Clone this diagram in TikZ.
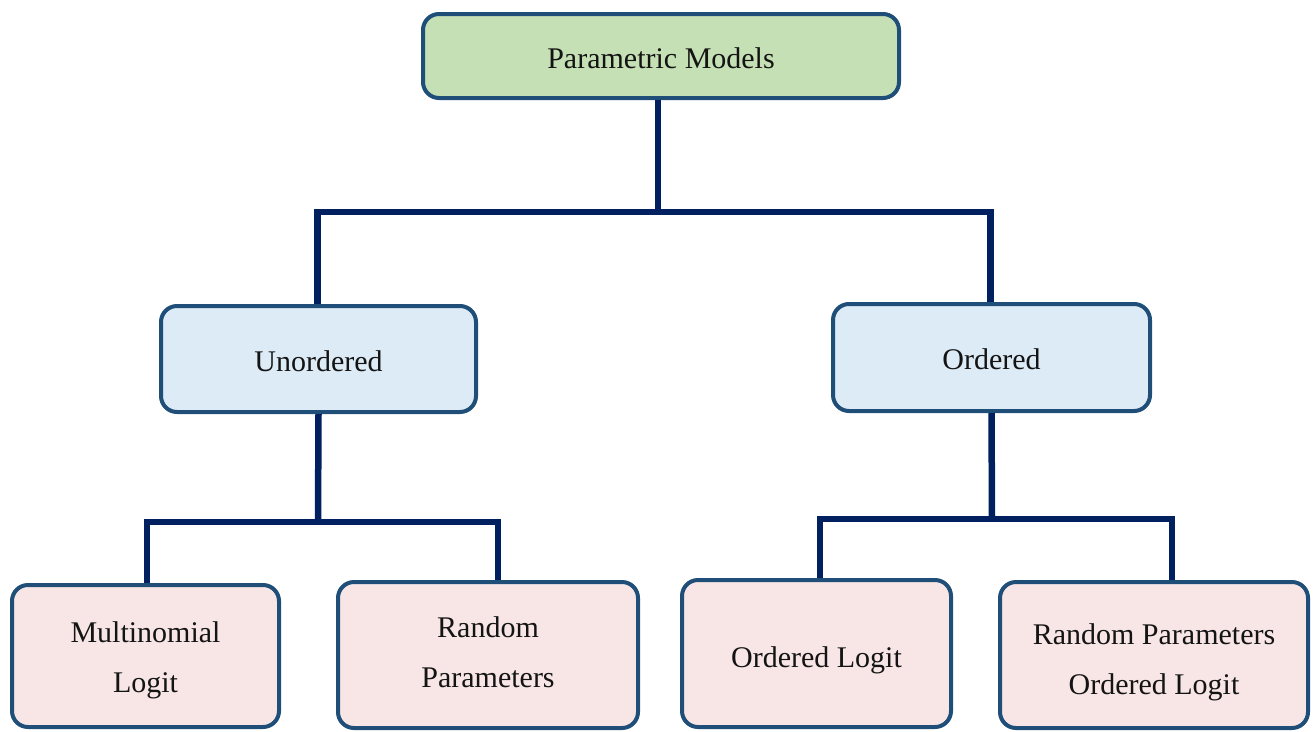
\documentclass[tikz,border=0pt]{standalone}
\usepackage{fontspec}
\setmainfont{Liberation Serif}
\definecolor{bordc}{RGB}{31,78,121}
\definecolor{linec}{RGB}{0,32,96}
\definecolor{greenf}{RGB}{197,224,180}
\definecolor{bluef}{RGB}{221,235,247}
\definecolor{pinkf}{RGB}{248,230,230}
\definecolor{txtc}{RGB}{20,20,20}
\tikzset{
  box/.style={draw=bordc, line width=4pt, rounded corners=16pt, inner sep=0pt},
  topbox/.style={box, fill=greenf},
  midbox/.style={box, fill=bluef},
  leafbox/.style={box, fill=pinkf},
  lbl/.style={align=center, text=txtc, inner sep=0pt, font=\fontsize{30}{50}\selectfont},
  conn/.style={draw=linec, line width=6.5pt}
}
\begin{document}
\begin{tikzpicture}[x=1pt,y=-1pt]
\useasboundingbox (0,0) rectangle (1313,731);
\node[topbox, minimum width=476pt, minimum height=84pt,
  label={[lbl, yshift=-2pt]center:Parametric Models}] (top) at (661,56) {};
\node[midbox, minimum width=315pt, minimum height=106pt,
  label={[lbl, yshift=-2pt]center:Unordered}] (unord) at (318.5,359) {};
\node[midbox, minimum width=317pt, minimum height=107pt,
  label={[lbl, yshift=-2pt]center:Ordered}] (ord) at (991.5,357.5) {};
\node[leafbox, minimum width=267pt, minimum height=142pt,
  label={[lbl, yshift=-4pt]center:Multinomial\\Logit}] (ml) at (145.5,656) {};
\node[leafbox, minimum width=300pt, minimum height=146pt,
  label={[lbl, yshift=3pt]center:Random\\Parameters}] (rp) at (488,655) {};
\node[leafbox, minimum width=269pt, minimum height=147pt,
  label={[lbl, yshift=-7pt]center:Ordered Logit}] (ol) at (816.5,653.5) {};
\node[leafbox, minimum width=308pt, minimum height=146pt,
  label={[lbl, yshift=-7pt]center:Random Parameters\\Ordered Logit}] (rpol) at (1154,655) {};
% level 1 connectors
\coordinate (b1) at (658,212);
\draw[conn] ([xshift=-3pt]top.south) -- (b1);
\draw[conn] ([xshift=-1pt]unord.north) |- (b1) -| ([xshift=-1pt]ord.north);
% unordered branch
\coordinate (b2) at (318,522);
\draw[conn] (unord.south) -- (b2);
\draw[conn] ([xshift=1.5pt]ml.north) |- (b2) -| ([xshift=10pt]rp.north);
% ordered branch
\coordinate (b3) at (992,519);
\draw[conn] (ord.south) -- (b3);
\draw[conn] ([xshift=3.5pt]ol.north) |- (b3) -| ([xshift=18pt]rpol.north);
\end{tikzpicture}
\end{document}
